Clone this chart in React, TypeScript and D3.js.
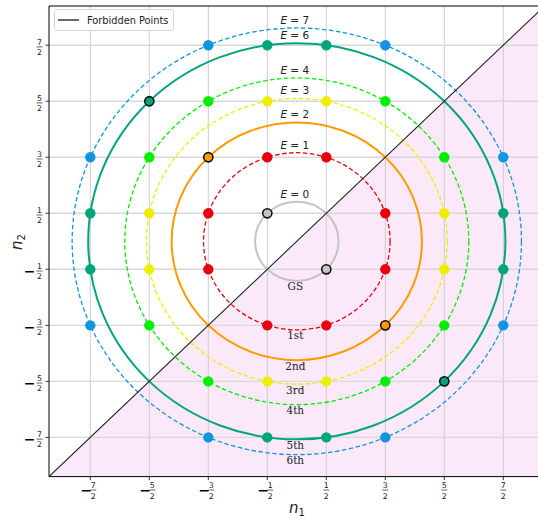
import React from "react";
import * as d3 from "d3";

// ---- data ----
const energyLevels = [0, 1, 2, 3, 4, 6, 7];
const radiusSquared = [0.5, 2.5, 4.5, 6.5, 8.5, 12.5, 14.5];
const levelColors = ["#c4c4c4", "#e8000e", "#ff9a00", "#eeee00", "#00ee00", "#00a57c", "#1195e0"];
const levelDashed = [false, true, false, true, true, false, true];
const ordinalLabels = ["GS", "1st", "2nd", "3rd", "4th", "5th", "6th"];

const pointsLevel0 = [[-0.5, 0.5], [0.5, -0.5]];
const pointsLevel1 = [[-0.5, 1.5], [0.5, 1.5], [-1.5, 0.5], [1.5, 0.5], [-1.5, -0.5], [1.5, -0.5], [-0.5, -1.5], [0.5, -1.5]];
const pointsLevel2 = [[-1.5, 1.5], [1.5, -1.5]];
const pointsLevel3 = [[-0.5, 2.5], [0.5, 2.5], [-2.5, 0.5], [2.5, 0.5], [-2.5, -0.5], [2.5, -0.5], [-0.5, -2.5], [0.5, -2.5]];
const pointsLevel4 = [[-1.5, 2.5], [1.5, 2.5], [-2.5, 1.5], [2.5, 1.5], [-2.5, -1.5], [2.5, -1.5], [-1.5, -2.5], [1.5, -2.5]];
const pointsLevel6 = [[-0.5, 3.5], [0.5, 3.5], [-3.5, 0.5], [3.5, 0.5], [-3.5, -0.5], [3.5, -0.5], [-0.5, -3.5], [0.5, -3.5], [-2.5, 2.5], [2.5, -2.5]];
const pointsLevel7 = [[-1.5, 3.5], [1.5, 3.5], [-3.5, 1.5], [3.5, 1.5], [-3.5, -1.5], [3.5, -1.5], [-1.5, -3.5], [1.5, -3.5]];
const pointsByLevel = [pointsLevel0, pointsLevel1, pointsLevel2, pointsLevel3, pointsLevel4, pointsLevel6, pointsLevel7];

const tickValues = [-3.5, -2.5, -1.5, -0.5, 0.5, 1.5, 2.5, 3.5];
const tickNumerators = ["7", "5", "3", "1", "1", "3", "5", "7"];
const tickNegative = [true, true, true, true, false, false, false, false];
const domain = [-4.2, 4.2];

const W = 538;
const H = 518;
const left = 49;
const right = 544.6;
const top = 6;
const bottom = 476.6;

export default function App() {
  const x = d3.scaleLinear().domain(domain).range([left, right]);
  const y = d3.scaleLinear().domain(domain).range([bottom, top]);
  const sans = "DejaVu Sans, sans-serif";
  const serif = "DejaVu Serif, serif";

  const diag = d3.line<number>().x((d) => x(d)).y((d) => y(d));
  const pinkArea = `M${x(domain[0])},${y(domain[0])} L${x(domain[1])},${y(domain[1])} L${x(domain[1])},${y(domain[0])} Z`;

  return (
    <svg width={W} height={H} style={{ position: "absolute", left: 0, top: 0, display: "block", background: "#fff" }}>
      <defs>
        <clipPath id="plot">
          <rect x={left} y={top} width={right - left} height={bottom - top} />
        </clipPath>
      </defs>
      <g clipPath="url(#plot)">
        <path d={pinkArea} fill="#fbe9fa" />
        {tickValues.map((t, i) => (
          <line key={"gv" + i} x1={x(t)} x2={x(t)} y1={top} y2={bottom} stroke="#c8c8c8" strokeWidth={0.9} />
        ))}
        {tickValues.map((t, i) => (
          <line key={"gh" + i} x1={left} x2={right} y1={y(t)} y2={y(t)} stroke="#d8d8d8" strokeWidth={1.4} />
        ))}
        {radiusSquared.map((r2, i) => {
          const r = Math.sqrt(r2);
          return (
            <ellipse
              key={"c" + i}
              cx={x(0)}
              cy={y(0)}
              rx={x(r) - x(0)}
              ry={y(0) - y(r)}
              fill="none"
              stroke={levelColors[i]}
              strokeWidth={levelDashed[i] ? 1.3 : 2}
              strokeDasharray={levelDashed[i] ? "4.5,2.5" : undefined}
            />
          );
        })}
        <path d={diag(domain) || ""} stroke="#222" strokeWidth={1.1} fill="none" />
        {pointsByLevel.map((pts, li) =>
          pts.map((p, j) => {
            const edged = p[0] === -p[1];
            return (
              <circle
                key={"p" + li + "_" + j}
                cx={x(p[0])}
                cy={y(p[1])}
                r={edged ? 4.6 : 5.2}
                fill={levelColors[li]}
                stroke={edged ? "#111" : "none"}
                strokeWidth={edged ? 1.6 : 0}
              />
            );
          })
        )}
        {radiusSquared.map((r2, i) => {
          const r = Math.sqrt(r2);
          return (
            <text key={"el" + i} x={x(0) - 2} y={y(r) - 4} textAnchor="middle" fontFamily={sans} fontSize={10.5} fill="#222">
              <tspan fontStyle="italic">E</tspan>
              {" = " + energyLevels[i]}
            </text>
          );
        })}
        {radiusSquared.map((r2, i) => {
          const r = Math.sqrt(r2);
          return (
            <text key={"ol" + i} x={x(0) - 1.5} y={y(-r) + 9.5} textAnchor="middle" fontFamily={serif} fontSize={10.5} fill="#222">
              {ordinalLabels[i]}
            </text>
          );
        })}
      </g>
      {/* spines */}
      <line x1={left} x2={left} y1={top} y2={bottom} stroke="#000" strokeWidth={1} />
      <line x1={left} x2={right} y1={bottom} y2={bottom} stroke="#000" strokeWidth={1} />
      <line x1={left} x2={right} y1={top} y2={top} stroke="#000" strokeWidth={1} />
      <line x1={right} x2={right} y1={top} y2={bottom} stroke="#000" strokeWidth={1} />
      {/* x ticks */}
      {tickValues.map((t, i) => {
        const cx = x(t);
        const fx = tickNegative[i] ? cx + 3 : cx;
        return (
          <g key={"xt" + i}>
            <line x1={cx} x2={cx} y1={bottom} y2={bottom + 3.5} stroke="#000" strokeWidth={0.8} />
            {tickNegative[i] && (
              <text x={cx - 4} y={495} textAnchor="middle" fontFamily={sans} fontSize={14} fontWeight="bold" fill="#000">−</text>
            )}
            <text x={fx} y={488} textAnchor="middle" fontFamily={sans} fontSize={7.8} fill="#222">{tickNumerators[i]}</text>
            <line x1={fx - 3} x2={fx + 3} y1={490} y2={490} stroke="#222" strokeWidth={0.7} />
            <text x={fx} y={499} textAnchor="middle" fontFamily={sans} fontSize={7.8} fill="#222">2</text>
          </g>
        );
      })}
      {/* y ticks */}
      {tickValues.map((t, i) => {
        const cy = y(t);
        const fx = 39.5;
        return (
          <g key={"yt" + i}>
            <line x1={left} x2={left - 3.5} y1={cy} y2={cy} stroke="#000" strokeWidth={0.8} />
            {tickNegative[i] && (
              <text x={29.5} y={cy + 6.2} textAnchor="middle" fontFamily={sans} fontSize={14} fontWeight="bold" fill="#000">−</text>
            )}
            <text x={fx} y={cy - 0.5} textAnchor="middle" fontFamily={sans} fontSize={7.8} fill="#222">{tickNumerators[i]}</text>
            <line x1={fx - 3} x2={fx + 3} y1={cy + 1.7} y2={cy + 1.7} stroke="#222" strokeWidth={0.7} />
            <text x={fx} y={cy + 10} textAnchor="middle" fontFamily={sans} fontSize={7.8} fill="#222">2</text>
          </g>
        );
      })}
      {/* axis labels */}
      <text x={289} y={513} fontFamily={sans} fontSize={15} fontStyle="italic" fill="#222">
        n<tspan fontStyle="normal" fontSize={10} dy={2.5}>1</tspan>
      </text>
      <text transform="translate(22,250) rotate(-90)" fontFamily={sans} fontSize={15} fontStyle="italic" fill="#222">
        n<tspan fontStyle="normal" fontSize={10} dy={2.5}>2</tspan>
      </text>
      {/* legend */}
      <rect x={54.5} y={9.5} width={119} height={21} rx={2.5} fill="#fff" fillOpacity={0.85} stroke="#d0d0d0" strokeWidth={0.9} />
      <line x1={58} x2={79} y1={20} y2={20} stroke="#444" strokeWidth={1.6} />
      <text x={87} y={23.5} fontFamily={sans} fontSize={9.8} fill="#222">Forbidden Points</text>
    </svg>
  );
}
